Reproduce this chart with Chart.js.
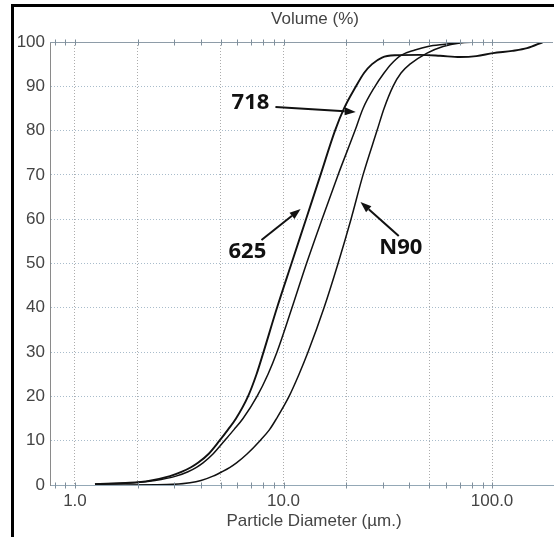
<!DOCTYPE html>
<html>
<head>
<meta charset="utf-8">
<title>Volume (%)</title>
<script src="https://cdn.jsdelivr.net/npm/chart.js@4.4.1/dist/chart.umd.min.js"></script>
<style>
  html, body { margin: 0; padding: 0; background: #fff; }
  #wrap { position: relative; width: 554px; height: 537px; }
  #frame { position: absolute; left: 11px; top: 4px; right: 0; bottom: 0;
           border-left: 3px solid #000; border-top: 3px solid #000; pointer-events: none; }
</style>
</head>
<body>
<div id="wrap">
  <canvas id="grafico" width="554" height="537"></canvas>
  <div id="frame"></div>
</div>
<script>
// diametros (µm) y volumen acumulado (%)
const d625 = [1.247, 1.835, 2.289, 2.855, 3.261, 3.601, 3.890, 4.369, 4.932, 5.418, 5.918, 6.757, 7.423, 8.018, 9.307, 10.92, 12.82, 15.05, 17.66, 19.51, 22.27, 24.33, 26.58, 29.68, 34.26, 45.2, 56.3, 70.2, 84, 101.1, 125, 147.2, 175.6];
const v625 = [0.2, 0.5, 1, 2, 3, 4, 5, 7, 10, 12.5, 15, 20, 25, 30, 40, 50, 60, 70, 80, 85, 90, 93, 95, 96.5, 97, 97.1, 96.9, 96.6, 96.8, 97.5, 98.0, 98.6, 100];

const d718 = [1.247, 1.940, 2.419, 3.051, 3.483, 3.825, 4.111, 4.590, 5.212, 5.788, 6.394, 7.464, 8.426, 9.307, 10.98, 12.89, 15.30, 18.26, 22.02, 24.06, 27.47, 30.34, 32.78, 36.6, 42.7, 49.3, 59.5, 70.2, 80.2];
const v718 = [0.2, 0.5, 1, 2, 3, 4, 5, 7, 10, 12.5, 15, 20, 25, 30, 40, 50, 60, 70, 80, 85, 90, 93, 95, 97, 98.2, 99, 99.5, 99.9, 100];

const dN90 = [1.32, 2.762, 3.561, 4.021, 4.590, 5.070, 5.539, 5.951, 6.683, 7.715, 8.568, 9.257, 10.63, 11.87, 13.11, 15.64, 18.26, 21.07, 24.06, 28.08, 30.34, 33.51, 36.6, 40.4, 48.8, 58.2, 70.2, 84.7];
const vN90 = [0, 0.1, 0.5, 1, 2, 3, 4, 5, 7, 10, 12.5, 15, 20, 25, 30, 40, 50, 60, 70, 80, 85, 90, 93, 95, 97.5, 99, 99.8, 100];

const xMarcas = [0.8, 0.9, 1, 2, 3, 4, 5, 6, 7, 8, 9, 10, 20, 30, 40, 50, 60, 70, 80, 90, 100];
const xGrilla = [1, 2, 5, 10, 20, 50, 100];
const xEtiquetas = { 1: '1.0', 10: '10.0', 100: '100.0' };

// etiquetas de las curvas: texto, posicion y flecha (en unidades de datos)
const nombres = ['718', '625', 'N90'];
const posTexto = [[6.94, 86.2], [6.71, 52.6], [36.5, 53.5]];
const flechaDesde = [[9.15, 85.3], [7.84, 55.3], [35.7, 56.2]];
const flechaHasta = [[22.2, 84.2], [12.08, 62.3], [23.4, 63.9]];

const puntos = (xs, ys) => xs.map((x, i) => ({ x: x, y: ys[i] }));
const esGrilla = (v) => xGrilla.some((g) => Math.abs(g - v) < 1e-6);

const decoraciones = {
    id: 'decoraciones',
    afterDraw(chart) {
        const { ctx, chartArea: ca, scales } = chart;
        const x = scales.x, y = scales.y;
        ctx.save();
        // linea superior (100 %)
        const yTop = Math.round(y.getPixelForValue(100)) + 0.5;
        const yBot = Math.round(y.getPixelForValue(0)) + 0.5;
        ctx.strokeStyle = '#8e9ca8';
        ctx.lineWidth = 1;
        ctx.beginPath();
        ctx.moveTo(ca.left, yTop);
        ctx.lineTo(ca.right, yTop);
        ctx.stroke();
        // marcas menores arriba y abajo
        ctx.strokeStyle = '#7f8f9c';
        xMarcas.forEach((v) => {
            const px = Math.round(x.getPixelForValue(v)) + 0.5;
            ctx.beginPath();
            ctx.moveTo(px, yTop - 3);
            ctx.lineTo(px, yTop + 3);
            ctx.moveTo(px, yBot - 3);
            ctx.lineTo(px, yBot + 3);
            ctx.stroke();
        });
        // titulos
        ctx.fillStyle = '#444';
        ctx.font = '17px "Liberation Sans", Arial, sans-serif';
        ctx.textAlign = 'center';
        ctx.textBaseline = 'middle';
        ctx.fillText('Volume (%)', 315, 19);
        ctx.fillText('Particle Diameter (µm.)', 314, 521);
        // etiquetas con flechas
        ctx.fillStyle = '#111';
        ctx.strokeStyle = '#111';
        ctx.font = 'bold 22px "Open Sans", sans-serif';
        nombres.forEach((txt, i) => {
            const tx = x.getPixelForValue(posTexto[i][0]);
            const ty = y.getPixelForValue(posTexto[i][1]);
            ctx.fillText(txt, tx, ty);
            const x0 = x.getPixelForValue(flechaDesde[i][0]);
            const y0 = y.getPixelForValue(flechaDesde[i][1]);
            const x1 = x.getPixelForValue(flechaHasta[i][0]);
            const y1 = y.getPixelForValue(flechaHasta[i][1]);
            const ang = Math.atan2(y1 - y0, x1 - x0);
            const largo = 11, ancho = 4;
            const bx = x1 - largo * Math.cos(ang), by = y1 - largo * Math.sin(ang);
            ctx.lineWidth = 2;
            ctx.beginPath();
            ctx.moveTo(x0, y0);
            ctx.lineTo(bx, by);
            ctx.stroke();
            ctx.beginPath();
            ctx.moveTo(x1, y1);
            ctx.lineTo(bx + ancho * Math.sin(ang), by - ancho * Math.cos(ang));
            ctx.lineTo(bx - ancho * Math.sin(ang), by + ancho * Math.cos(ang));
            ctx.closePath();
            ctx.fill();
        });
        ctx.restore();
    }
};

const ctx = document.getElementById('grafico').getContext('2d');
const grafico = new Chart(ctx, {
    type: 'scatter',
    data: {
        datasets: [
            { label: '625', data: puntos(d625, v625), borderWidth: 1.9 },
            { label: '718', data: puntos(d718, v718), borderWidth: 1.5 },
            { label: 'N90', data: puntos(dN90, vN90), borderWidth: 1.5 }
        ]
    },
    options: {
        responsive: false,
        animation: false,
        showLine: true,
        layout: { padding: { left: 0, top: 42, right: 1, bottom: 0 } },
        elements: {
            point: { radius: 0 },
            line: { borderColor: '#111', cubicInterpolationMode: 'monotone', fill: false }
        },
        plugins: {
            legend: { display: false },
            tooltip: { enabled: false }
        },
        scales: {
            x: {
                type: 'logarithmic',
                min: 0.759,
                max: 196,
                afterBuildTicks: (scale) => { scale.ticks = xMarcas.map((v) => ({ value: v })); },
                afterFit: (scale) => { scale.height = 52; },
                grid: {
                    color: (c) => (c.tick && esGrilla(c.tick.value) ? '#acacac' : 'rgba(0,0,0,0)'),
                    lineWidth: 1,
                    drawTicks: false
                },
                border: { display: true, color: '#94a8b6', width: 1, dash: [1, 2] },
                ticks: {
                    autoSkip: false,
                    maxRotation: 0,
                    padding: 6,
                    color: '#444',
                    font: { family: '"Liberation Sans", Arial, sans-serif', size: 17 },
                    callback: (v) => {
                        for (const k in xEtiquetas) {
                            if (Math.abs(Number(k) - v) < 1e-6) return xEtiquetas[k];
                        }
                        return '';
                    }
                }
            },
            y: {
                min: 0,
                max: 100,
                afterFit: (scale) => { scale.width = 50; },
                grid: {
                    color: (c) => (c.tick && (c.tick.value === 0 || c.tick.value === 100) ? 'rgba(0,0,0,0)' : '#a9bccb'),
                    lineWidth: 1,
                    drawTicks: false
                },
                border: { display: true, color: '#8a8a8a', width: 1, dash: [1, 2] },
                ticks: {
                    stepSize: 10,
                    padding: 5,
                    color: '#444',
                    font: { family: '"Liberation Sans", Arial, sans-serif', size: 17 }
                }
            }
        }
    },
    plugins: [decoraciones]
});
</script>
</body>
</html>
